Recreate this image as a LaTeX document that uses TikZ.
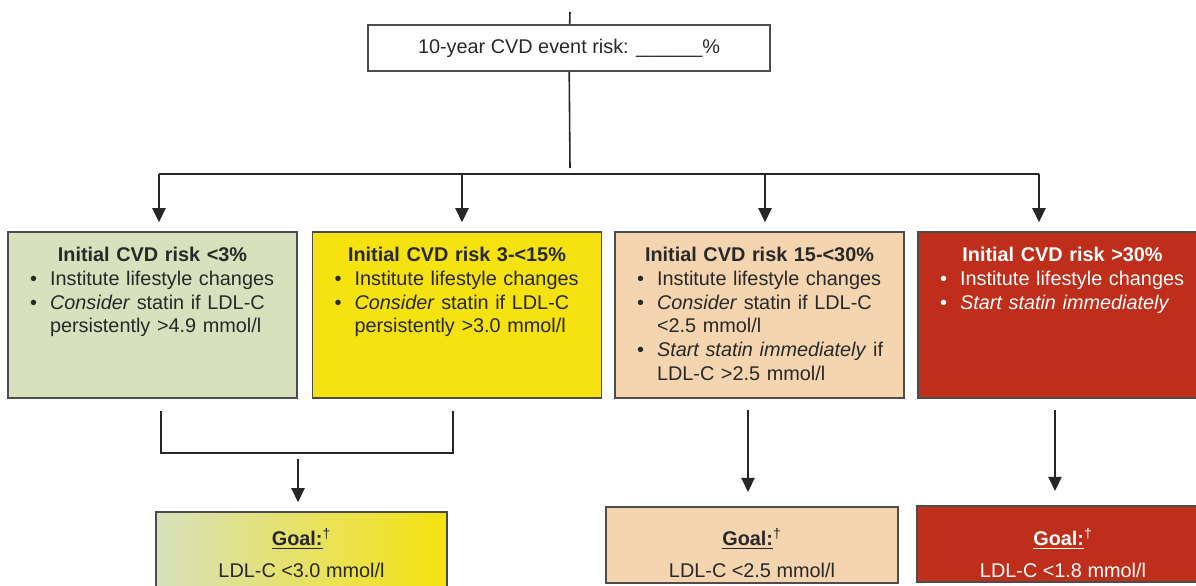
\documentclass[tikz,border=0pt]{standalone}
\usepackage{fontspec}
\setmainfont{Liberation Sans}
\usetikzlibrary{arrows.meta}
\definecolor{lowrisk}{RGB}{215,225,189}
\definecolor{modrisk}{RGB}{246,226,15}
\definecolor{goalmix}{RGB}{236,234,140}
\definecolor{highrisk}{RGB}{245,213,176}
\definecolor{vhighrisk}{RGB}{190,46,26}
\definecolor{ink}{RGB}{40,40,40}
\newcommand{\riskhead}[1]{\makebox[\hsize][c]{\bfseries #1}}
\newcommand{\bul}{\hspace*{0.44cm}\makebox[0.40cm][l]{\textbullet}}
\newcommand{\ind}{\hspace*{0.84cm}}
\newcommand{\goal}{\underline{\textbf{Goal:}}\textsuperscript{\dag}}
\begin{document}
\begin{tikzpicture}[x=0.02cm,y=-0.02cm,
	font=\fontsize{11.3}{13.5}\selectfont,
	riskbox/.style={draw=black!70,line width=1.1pt,minimum width=5.78cm,minimum height=3.32cm,inner sep=0},
	boxtext/.style={anchor=north,text width=5.78cm,align=left,inner sep=0,text=ink},
	goalbox/.style={draw=black!70,line width=1.1pt,minimum width=5.84cm,minimum height=1.52cm,inner sep=0},
	goaltext/.style={align=center,inner sep=0,text=ink},
	conn/.style={draw=black!85,line width=0.9pt},
	arr/.style={conn,-{Triangle[width=7.5pt,length=8pt]},shorten >=5pt}]
	\clip (0,0) rectangle (1196,585);
	% top box
	\node[draw=black!70,line width=1.1pt,minimum width=8.04cm,minimum height=0.92cm,text=ink] (risk) at (569,48) {10-year CVD event risk: \_\_\_\_\_\_\%};
	% risk groups
	\node[riskbox,fill=lowrisk] (low) at (152.5,315) {};
	\node[riskbox,fill=modrisk] (mod) at (457,315) {};
	\node[riskbox,fill=highrisk] (high) at (759.5,315) {};
	\node[riskbox,fill=vhighrisk] (vhigh) at (1062.5,315) {};
	\node[boxtext] (lowtext) at (152.5,247) {\riskhead{Initial CVD risk <3\%}\\
		\bul Institute lifestyle changes\\
		\bul \textit{Consider} statin if LDL-C\\
		\ind persistently >4.9 mmol/l};
	\node[boxtext] (modtext) at (457,247) {\riskhead{Initial CVD risk 3-<15\%}\\
		\bul Institute lifestyle changes\\
		\bul \textit{Consider} statin if LDL-C\\
		\ind persistently >3.0 mmol/l};
	\node[boxtext] (hightext) at (759.5,247) {\riskhead{Initial CVD risk 15-<30\%}\\
		\bul Institute lifestyle changes\\
		\bul \textit{Consider} statin if LDL-C\\
		\ind <2.5 mmol/l\\
		\bul \textit{Start statin immediately} if\\
		\ind LDL-C >2.5 mmol/l};
	\node[boxtext,text=white] (vhightext) at (1062.5,247) {\riskhead{Initial CVD risk >30\%}\\
		\bul Institute lifestyle changes\\
		\bul \textit{Start statin immediately}};
	% goals
	\node[goalbox,minimum width=5.82cm,minimum height=1.76cm,left color=lowrisk,middle color=goalmix,right color=modrisk] (goalA) at (301.5,556) {};
	\node[goalbox,fill=highrisk] (goalB) at (752,545) {};
	\node[goalbox,fill=vhighrisk] (goalC) at (1063,544) {};
	\node[goaltext] at (301.5,553) {\goal\\[4.5pt]LDL-C <3.0 mmol/l};
	\node[goaltext] at (752,553) {\goal\\[4.5pt]LDL-C <2.5 mmol/l};
	\node[goaltext,text=white] at (1063,553) {\goal\\[4.5pt]LDL-C <1.8 mmol/l};
	% connectors
	\coordinate (in) at (570,12);
	\coordinate (join) at (570,168);
	\coordinate (b1) at (159,174);
	\coordinate (b2) at (462,174);
	\coordinate (b3) at (765,174);
	\coordinate (b4) at (1039,174);
	\draw[conn] (in) -- (risk);
	\draw[conn] (risk) -- (join);
	\draw[conn] (b1) -- (b4);
	\foreach \b/\n in {b1/low,b2/mod,b3/high,b4/vhigh}
		\draw[arr] (\b) -- (\b |- \n.north);
	\coordinate (brl) at (161,411);
	\coordinate (brr) at (453,411);
	\coordinate (brm) at (298,453);
	\coordinate (brs) at (298,459);
	\draw[conn] (brl) |- (brm) -| (brr);
	\draw[arr] (brs) -- (brs |- goalA.north);
	\coordinate (a3) at (748,410);
	\coordinate (a4) at (1055,410);
	\draw[arr,shorten >=8pt] (a3) -- (a3 |- goalB.north);
	\draw[arr,shorten >=8pt] (a4) -- (a4 |- goalC.north);
\end{tikzpicture}
\end{document}
